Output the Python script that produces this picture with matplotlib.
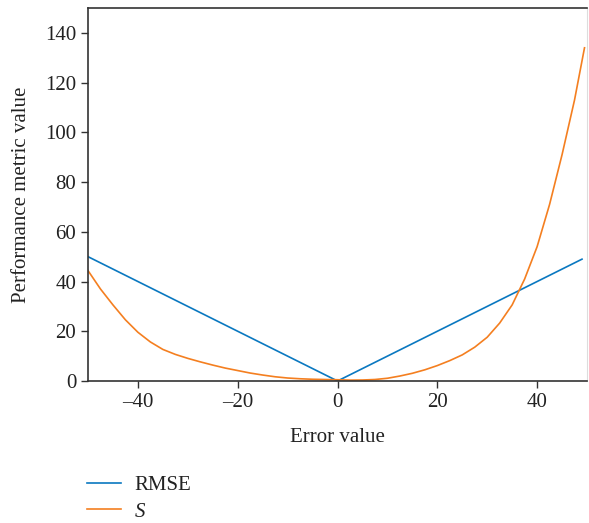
import matplotlib.pyplot as plt
from matplotlib.lines import Line2D

# Werte
rmse_x = [-50, 0, 49]
rmse_y = [50, 0, 49]

s_x = [-50, -47.5, -45, -42.5, -40, -37.5, -35, -32.5, -30, -27.5, -25,
       -22.5, -20, -17.5, -15, -12.5, -10, -7.5, -5, -2.5, 0, 2.5, 5, 7.5,
       10, 12.5, 15, 17.5, 20, 22.5, 25, 27.5, 30, 32.5, 35, 37.5, 40, 42.5,
       45, 47.5, 49.5]
s_y = [44.4, 37.0, 30.6, 24.6, 19.6, 15.7, 12.7, 10.7, 9.1, 7.7, 6.4,
       5.2, 4.2, 3.2, 2.4, 1.7, 1.2, 0.9, 0.7, 0.6, 0.5, 0.35, 0.4, 0.6,
       1.1, 2.0, 3.1, 4.5, 6.2, 8.2, 10.5, 13.6, 17.6, 23.3, 30.6, 41.0, 54.0,
       71.0, 91.0, 113.0, 134.0]

x_ticks = [-40, -20, 0, 20, 40]
y_ticks = [0, 20, 40, 60, 80, 100, 120, 140]

blau = '#0a78c0'
orange = '#f47f20'

plt.rcParams['font.family'] = ['Liberation Serif', 'DejaVu Serif']
plt.rcParams['font.size'] = 15

fig = plt.figure(figsize=(5.89, 5.23), dpi=100)
ax = fig.add_axes([88 / 589, 1 - 381 / 523, 499 / 589, 373 / 523])

ax.plot(rmse_x, rmse_y, color=blau, lw=1.2)
ax.plot(s_x, s_y, color=orange, lw=1.2)

ax.set_xlim(-50, 50)
ax.set_ylim(0, 150)
ax.set_xticks(x_ticks)
ax.set_xticklabels(['\u2013' + str(-t) if t < 0 else str(t) for t in x_ticks])
ax.set_yticks(y_ticks)
ax.tick_params(direction='out', length=5, width=1, colors='#333333',
               labelcolor='#222222', labelsize=15)

for side in ['left', 'bottom', 'top']:
    ax.spines[side].set_color('#333333')
    ax.spines[side].set_linewidth(1.2)
ax.spines['right'].set_color('#dddddd')
ax.spines['right'].set_linewidth(0.8)

ax.set_xlabel('Error value', fontsize=15, color='#222222', labelpad=12)
ax.set_ylabel('Performance metric value', fontsize=15, color='#222222', labelpad=10)

# Legende unterhalb der Achsen
handles = [Line2D([], [], color=blau, lw=1.2),
           Line2D([], [], color=orange, lw=1.2)]
leg = fig.legend(handles, ['RMSE', 'S'], loc='upper left',
                 bbox_to_anchor=(81 / 589, 1 - 469 / 523), frameon=False,
                 fontsize=15, handlelength=1.6, handletextpad=0.68,
                 labelspacing=0.35, labelcolor='#222222',
                 borderaxespad=0, borderpad=0.3)
leg.get_texts()[1].set_fontstyle('italic')

fig.savefig('out.png', dpi=100)
